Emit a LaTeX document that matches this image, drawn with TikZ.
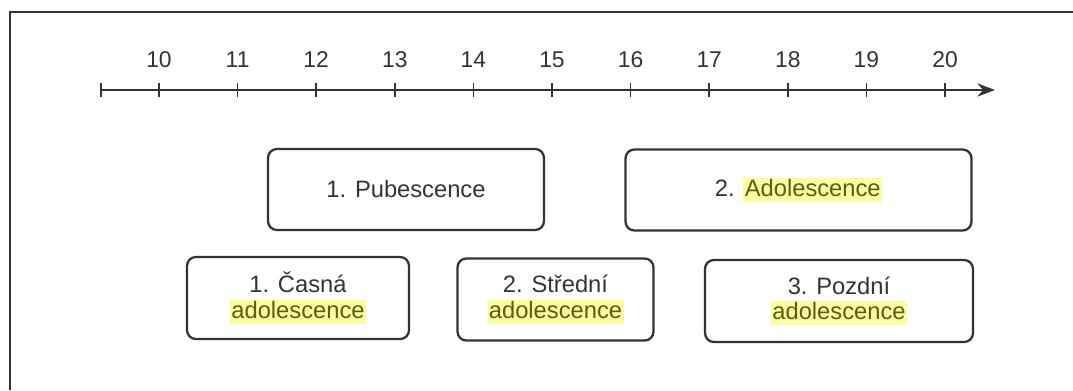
\documentclass[tikz,border=0pt]{standalone}
\usepackage{fontspec}
\setmainfont{Liberation Sans}
\usetikzlibrary{arrows.meta}

\definecolor{linegray}{HTML}{333333}
\definecolor{hlyellow}{HTML}{FCFCA0}
\definecolor{hltext}{HTML}{5C5C12}
% highlighted word
\newcommand{\hlword}[1]{{\setlength{\fboxsep}{0.8pt}\colorbox{hlyellow}{\color{hltext}\rule[-0.16em]{0pt}{0.9em}#1}}}

\begin{document}
\begin{tikzpicture}[
    x=0.02cm, y=-0.02cm,
    phase/.style={rectangle, draw=linegray, line width=1.3pt, rounded corners=5pt, align=center, text=linegray, inner sep=0pt, font=\fontsize{13.5}{14.6}\selectfont},
    yearlbl/.style={text=linegray, inner sep=0pt, font=\fontsize{13}{14}\selectfont},
    timeaxis/.style={draw=linegray, line width=1.3pt, -{Stealth[length=10pt, width=7.5pt]}},
    yeartick/.style={draw=linegray, line width=0.9pt}
]
    \useasboundingbox (0,0) rectangle (1073,390);
    % frame
    \draw[linegray, line width=1.1pt] (10,390) |- (1073,12);

    % time axis
    \coordinate (axstart) at (101,90);
    \coordinate (axend) at (995,90);
    \draw[timeaxis] (axstart) -- (axend);
    \draw[linegray, line width=1.4pt] (101,83) -- (101,97);
    \foreach \yr [evaluate=\yr as \xpos using {159+(\yr-10)*78.6}] in {10,...,20} {
        \draw[yeartick] (\xpos,83) -- (\xpos,97);
        \node[yearlbl] (y\yr) at (\xpos,60) {\yr};
    }

    % phases
    \node[phase, minimum width=5.52cm, minimum height=1.62cm] (pub) at (406,189.5) {1. Pubescence};
    \node[phase, minimum width=6.92cm, minimum height=1.62cm] (adol) at (798.5,190) {2. \hlword{Adolescence}};
    \node[phase, minimum width=4.44cm, minimum height=1.64cm] (early) at (298,298) {1. Časná\\\hlword{adolescence}};
    \node[phase, minimum width=3.92cm, minimum height=1.64cm] (middle) at (555.5,299.5) {2. Střední\\\hlword{adolescence}};
    \node[phase, minimum width=5.36cm, minimum height=1.64cm] (late) at (839,301) {3. Pozdní\\\hlword{adolescence}};
\end{tikzpicture}
\end{document}
